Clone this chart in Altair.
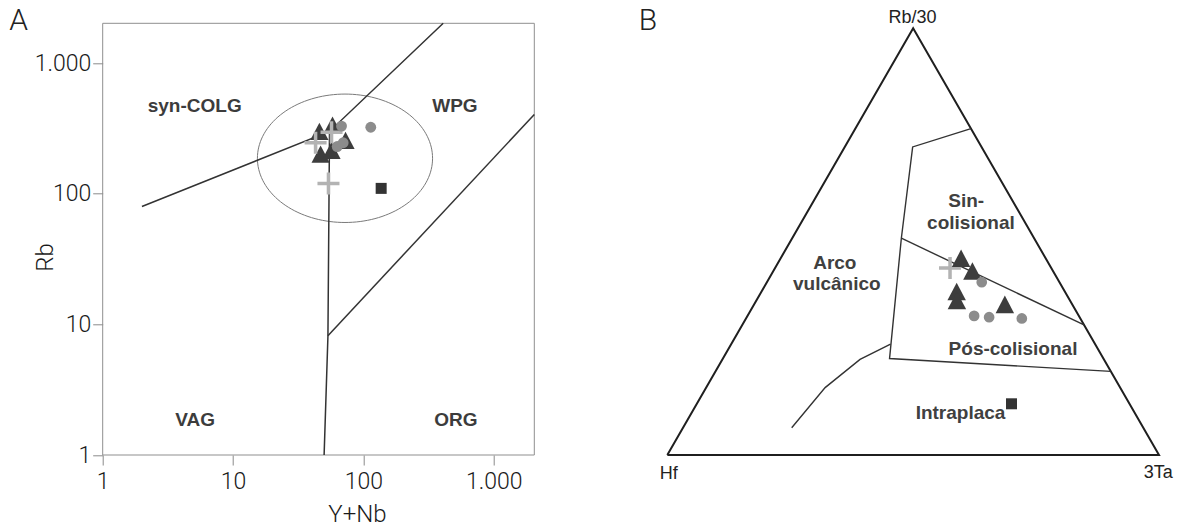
import altair as alt
import numpy as np
import pandas as pd

# ---------------- Panel A : Rb vs (Y+Nb), log-log ----------------
A_tri_ynb = [46, 58, 73, 47, 57]
A_tri_rb = [301, 336, 256, 201, 215]
A_circ_ynb = [68, 114, 63, 70]
A_circ_rb = [330, 323, 230, 246]
A_cross_ynb = [43, 57, 54]
A_cross_rb = [246, 296, 120]
A_sq_ynb = [137]
A_sq_rb = [110]

# field boundaries (Pearce et al. 1984)
A_bound_seg = ["colg", "colg", "colg", "vag", "vag", "vag", "org", "org"]
A_bound_ord = [0, 1, 2, 0, 1, 2, 0, 1]
A_bound_ynb = [2, 55, 410, 50, 53.5, 55, 53.5, 2050]
A_bound_rb = [80, 300, 2020, 1, 8.2, 300, 8.2, 405]

# post-COLG ellipse (centre and semi-axes in decades)
E_cx, E_cy = 72.3, 187.0
E_ax, E_ay = 0.672, 0.4916

A_field_text = ["syn-COLG", "WPG", "VAG", "ORG"]
A_field_ynb = [5.08, 504, 5.12, 513]
A_field_rb = [423, 423, 1.68, 1.68]

A_ticks = [1, 10, 100, 1000]

# ---------------- Panel B : Hf - Rb/30 - 3Ta ternary ----------------
B_tri_hf = [17.2, 16.4, 22.0, 23.0, 13.7]
B_tri_rb = [46.1, 43.1, 38.3, 36.2, 35.3]
B_tri_ta = [36.7, 40.5, 39.7, 40.8, 51.0]
B_circ_hf = [15.8, 21.3, 18.4, 11.9]
B_circ_rb = [40.5, 32.6, 32.3, 32.0]
B_circ_ta = [43.7, 46.1, 49.3, 56.1]
B_cross_hf = [20.6]
B_cross_rb = [43.8]
B_cross_ta = [35.6]
B_sq_hf = [24.0]
B_sq_rb = [12.0]
B_sq_ta = [64.0]

B_frame_hf = [100, 0, 0, 100]
B_frame_rb = [0, 100, 0, 0]
B_frame_ta = [0, 0, 100, 0]

B_bound_seg = ["field"] * 5 + ["sinpos"] * 2 + ["intra"] * 4
B_bound_ord = [0, 1, 2, 3, 4, 0, 1, 0, 1, 2, 3]
B_bound_hf = [0, 14, 27, 43.5, 0, 27, 0, 41.6, 49.6, 60, 71.5]
B_bound_rb = [76.5, 72.2, 50.8, 22.6, 19.6, 50.8, 30.5, 26, 22.4, 15.8, 6.4]
B_bound_ta = [23.5, 13.8, 22.2, 33.9, 80.4, 22.2, 69.5, 32.4, 28, 24.2, 22.1]

B_lab_text = ["Sin-", "colisional", "Arco", "vulcânico", "Pós-colisional", "Intraplaca"]
B_lab_u = [0.608, 0.6175, 0.3407, 0.3448, 0.7031, 0.5963]
B_lab_b = [0.582, 0.5306, 0.4361, 0.3874, 0.2344, 0.0844]

B_vert_text = ["Rb/30", "Hf", "3Ta"]
B_vert_u = [0.4987, 0.003, 0.9986]
B_vert_b = [1.0117, -0.057, -0.055]

# ---------------- styling ----------------
FONT = "Liberation Sans"
LIGHT = "Roboto"
DARK = "#3d3d3d"
CIRC = "#8c8c8c"
CROSS = "#b3b3b3"
CROSS_PATH = "M-1,-0.16L1,-0.16L1,0.16L-1,0.16ZM-0.16,-1L0.16,-1L0.16,1L-0.16,1Z"
TRI_PATH = "M0,-0.95L1,0.95L-1,0.95Z"

label_expr = "replace(format(datum.value, ','), ',', '.')"

xs = alt.Scale(type="log", domain=[1, 2050], range=[0, 431.6], nice=False)
ys = alt.Scale(type="log", domain=[1, 2020], nice=False)

axis_common = dict(values=A_ticks, labelExpr=label_expr, tickSize=10, tickColor="#8a8a8a",
                   domain=False, grid=False, labelFont=LIGHT, labelFontWeight=300,
                   labelFontSize=23, labelColor="#1a1a1a", labelFlush=False, labelOverlap=False,
                   titleFont=LIGHT, titleFontSize=24, titleFontWeight=300, titleColor="#1a1a1a",
                   titleBaseline="alphabetic", titleAlign="center")
xaxis = alt.Axis(labelPadding=5, titleX=254.3, titleY=66.7, **axis_common)
yaxis = alt.Axis(labelPadding=2, titleX=-49.7, titleY=233.7, **axis_common)

X = lambda: alt.X("x:Q", scale=xs, axis=xaxis, title="Y+Nb")
Y = lambda: alt.Y("y:Q", scale=ys, axis=yaxis, title="Rb")


def dfA(xv, yv, **extra):
    d = pd.DataFrame({"x": xv, "y": yv})
    for k, v in extra.items():
        d[k] = v
    return d


frame = alt.Chart(dfA([1], [1], x2=[2050], y2=[2020])).mark_rect(
    fillOpacity=0, stroke="#8f8f8f", strokeWidth=1
).encode(x=X(), y=Y(), x2="x2:Q", y2="y2:Q")

t = np.linspace(0, 2 * np.pi, 145)
ell_df = dfA(10 ** (np.log10(E_cx) + E_ax * np.cos(t)),
             10 ** (np.log10(E_cy) + E_ay * np.sin(t)), o=np.arange(len(t)))
ellipse = alt.Chart(ell_df).mark_line(color="#7a7a7a", strokeWidth=1).encode(
    x=X(), y=Y(), order="o:Q")

bounds_a = alt.Chart(dfA(A_bound_ynb, A_bound_rb, seg=A_bound_seg, o=A_bound_ord)).mark_line(
    color="#333333", strokeWidth=1.5).encode(x=X(), y=Y(), detail="seg:N", order="o:Q")

tri_a = alt.Chart(dfA(A_tri_ynb, A_tri_rb)).mark_point(
    shape=TRI_PATH, filled=True, size=330, color=DARK, opacity=1).encode(x=X(), y=Y())
cross_a = alt.Chart(dfA(A_cross_ynb, A_cross_rb)).mark_point(
    shape=CROSS_PATH, filled=True, size=484, color=CROSS, opacity=1).encode(x=X(), y=Y())
circ_a = alt.Chart(dfA(A_circ_ynb, A_circ_rb)).mark_point(
    shape="circle", filled=True, size=118, color=CIRC, opacity=1).encode(x=X(), y=Y())
sq_a = alt.Chart(dfA(A_sq_ynb, A_sq_rb)).mark_point(
    shape="square", filled=True, size=121, color="#333333", opacity=1).encode(x=X(), y=Y())

lab_a = alt.Chart(dfA(A_field_ynb, A_field_rb, t=A_field_text)).mark_text(
    font=FONT, fontWeight="bold", fontSize=19, color="#3c3c3c", align="center",
    baseline="alphabetic").encode(x=X(), y=Y(), text="t:N")

letter_a = alt.Chart(dfA([0.226], [1796], t=["A"])).mark_text(
    font=LIGHT, fontWeight=300, fontSize=30, color="#222222", align="center",
    baseline="alphabetic").encode(x=X(), y=Y(), text="t:N")

layerA = alt.layer(frame, ellipse, bounds_a, tri_a, cross_a, circ_a, sq_a, lab_a, letter_a)

# ---------------- Panel B ----------------
xbs = alt.Scale(domain=[0, 1], range=[564.6, 1056.3], nice=False, zero=False)
ybs = alt.Scale(domain=[0, 1], range=[431.7, 5.0], nice=False, zero=False)
XB = lambda f="u": alt.X(f"{f}:Q", scale=xbs, axis=None)
YB = lambda f="b": alt.Y(f"{f}:Q", scale=ybs, axis=None)


def tern(hf, rb, ta, **extra):
    d = pd.DataFrame({"hf": hf, "rb": rb, "ta": ta})
    for k, v in extra.items():
        d[k] = v
    return alt.Chart(d).transform_calculate(
        b="datum.rb / (datum.hf + datum.rb + datum.ta)",
        u="(datum.ta + datum.rb / 2) / (datum.hf + datum.rb + datum.ta)",
    )


tri_frame = tern(B_frame_hf, B_frame_rb, B_frame_ta, o=[0, 1, 2, 3]).mark_line(
    color="#1f1f1f", strokeWidth=2).encode(x=XB(), y=YB(), order="o:Q")
bounds_b = tern(B_bound_hf, B_bound_rb, B_bound_ta, seg=B_bound_seg, o=B_bound_ord).mark_line(
    color="#333333", strokeWidth=1.4).encode(x=XB(), y=YB(), detail="seg:N", order="o:Q")

cross_b = tern(B_cross_hf, B_cross_rb, B_cross_ta).mark_point(
    shape=CROSS_PATH, filled=True, size=484, color=CROSS, opacity=1).encode(x=XB(), y=YB())
tri_b = tern(B_tri_hf, B_tri_rb, B_tri_ta).mark_point(
    shape=TRI_PATH, filled=True, size=340, color=DARK, opacity=1).encode(x=XB(), y=YB())
circ_b = tern(B_circ_hf, B_circ_rb, B_circ_ta).mark_point(
    shape="circle", filled=True, size=115, color=CIRC, opacity=1).encode(x=XB(), y=YB())
sq_b = tern(B_sq_hf, B_sq_rb, B_sq_ta).mark_point(
    shape="square", filled=True, size=121, color="#333333", opacity=1).encode(x=XB(), y=YB())

lab_b = alt.Chart(pd.DataFrame({"u": B_lab_u, "b": B_lab_b, "t": B_lab_text})).mark_text(
    font=FONT, fontWeight="bold", fontSize=19, color="#404040", align="center",
    baseline="alphabetic").encode(x=XB(), y=YB(), text="t:N")
vert_b = alt.Chart(pd.DataFrame({"u": B_vert_u, "b": B_vert_b, "t": B_vert_text})).mark_text(
    font=FONT, fontSize=18, color="#222222", align="center",
    baseline="alphabetic").encode(x=XB(), y=YB(), text="t:N")
letter_b = alt.Chart(pd.DataFrame({"u": [-0.0393], "b": [0.996], "t": ["B"]})).mark_text(
    font=LIGHT, fontWeight=300, fontSize=30, color="#222222", align="center",
    baseline="alphabetic").encode(x=XB(), y=YB(), text="t:N")

layerB = alt.layer(tri_frame, bounds_b, cross_b, tri_b, circ_b, sq_b, lab_b, vert_b, letter_b)

chart = alt.layer(layerA, layerB).resolve_scale(x="independent", y="independent").properties(
    width=1078.3, height=431.7,
    autosize=alt.AutoSizeParams(type="none"),
    padding={"left": 102.7, "top": 23.3, "right": 0, "bottom": 72},
).configure_view(stroke=None)

chart.save("out.html", embed_options={"renderer": "svg", "actions": False})
